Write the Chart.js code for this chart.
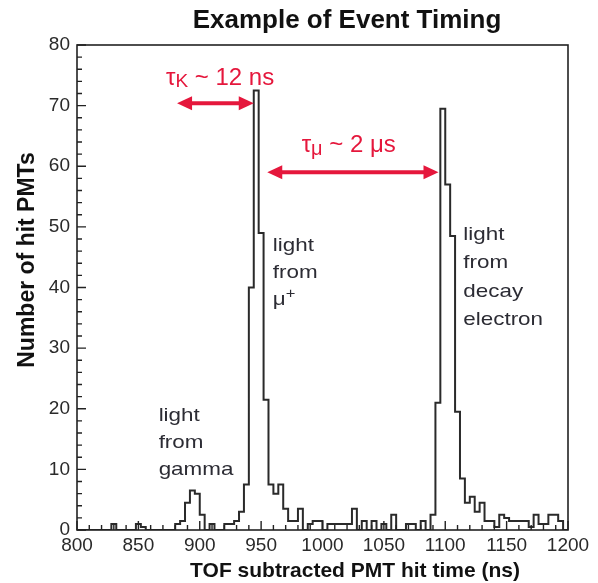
<!DOCTYPE html>
<html>
<head>
<meta charset="utf-8">
<script src="https://cdn.jsdelivr.net/npm/chart.js@4.4.1/dist/chart.umd.min.js"></script>
<style>
  html, body { margin: 0; padding: 0; background: #fff; }
</style>
</head>
<body>
<canvas id="timing" width="598" height="583"></canvas>
<script>
// PMT hit-time histogram, 4 ns bins from 800 to 1200 ns
const binEdges = [
  800, 804, 808, 812, 816, 820, 824, 828, 832, 836,
  840, 844, 848, 852, 856, 860, 864, 868, 872, 876,
  880, 884, 888, 892, 896, 900, 904, 908, 912, 916,
  920, 924, 928, 932, 936, 940, 944, 948, 952, 956,
  960, 964, 968, 972, 976, 980, 984, 988, 992, 996,
  1000, 1004, 1008, 1012, 1016, 1020, 1024, 1028, 1032, 1036,
  1040, 1044, 1048, 1052, 1056, 1060, 1064, 1068, 1072, 1076,
  1080, 1084, 1088, 1092, 1096, 1100, 1104, 1108, 1112, 1116,
  1120, 1124, 1128, 1132, 1136, 1140, 1144, 1148, 1152, 1156,
  1160, 1164, 1168, 1172, 1176, 1180, 1184, 1188, 1192, 1196,
  1200,
];

const hitCounts = [
  0, 0, 0, 0, 0, 0, 0, 1, 0, 0,
  0, 0, 1, 0.5, 0, 0, 0, 0, 0, 0,
  1, 1.5, 4.5, 6.5, 6, 2.5, 0, 1, 0, 0,
  1, 1, 1.5, 3, 7.5, 40, 72.5, 49, 21.5, 7.5,
  6, 7.5, 3.5, 1.5, 1.5, 3.5, 0, 1, 1.5, 1.5,
  0, 1, 1, 1, 1, 1, 3.5, 0, 1.5, 0,
  1.5, 0, 1, 0, 2.5, 0, 0, 1, 1, 0,
  1.5, 0, 2.5, 21, 69.5, 57, 48.5, 19.5, 8.5, 4.5,
  5.5, 3, 4.5, 1.5, 1.5, 0.5, 2.5, 2, 1.5, 1.5,
  1.5, 1.5, 0.5, 2.5, 1, 1, 2.5, 2.5, 1.5, 0,
];

const xTicks = [800, 850, 900, 950, 1000, 1050, 1100, 1150, 1200];
const yTicks = [0, 10, 20, 30, 40, 50, 60, 70, 80];

// double arrows (ns span, height in hit PMTs)
const lifetimeArrows = [
  { from: 881.5, to: 944, at: 70.4 },
  { from: 955, to: 1094.5, at: 59 },
];

const RED = "#e5173c";
const INK = "#2c2c34";
const FONT = '"Liberation Sans", Arial, sans-serif';

// step outline: each bin contributes its left and right corner
const outline = [];
hitCounts.forEach((v, i) => {
  outline.push({ x: binEdges[i], y: v });
  outline.push({ x: binEdges[i + 1], y: v });
});

function drawRun(ctx, parts, px, py, color, stretch = 1, align = "left") {
  ctx.save();
  ctx.fillStyle = color;
  ctx.textBaseline = "alphabetic";
  ctx.textAlign = "left";
  let total = 0;
  parts.forEach((p) => {
    ctx.font = `${p.weight || "normal"} ${p.size}px ${FONT}`;
    total += ctx.measureText(p.text).width;
  });
  ctx.translate(px, py);
  ctx.scale(stretch, 1);
  let cx = align === "center" ? -total / 2 : 0;
  parts.forEach((p) => {
    ctx.font = `${p.weight || "normal"} ${p.size}px ${FONT}`;
    ctx.fillText(p.text, cx, p.dy || 0);
    cx += ctx.measureText(p.text).width;
  });
  ctx.restore();
}

function arrowHead(ctx, tipX, y, dir) {
  ctx.beginPath();
  ctx.moveTo(tipX, y);
  ctx.lineTo(tipX - dir * 15, y - 7);
  ctx.lineTo(tipX - dir * 15, y + 7);
  ctx.closePath();
  ctx.fill();
}

// boxed frame with inward ticks
const frame = {
  id: "frame",
  afterDatasetsDraw(chart) {
    const { ctx, chartArea: a, scales } = chart;
    const sx = scales.x, sy = scales.y;
    ctx.save();
    ctx.strokeStyle = "#222";
    ctx.lineWidth = 1.6;
    ctx.strokeRect(a.left, a.top, a.right - a.left, a.bottom - a.top);
    ctx.lineWidth = 1.4;
    ctx.beginPath();
    for (let v = 0; v <= 80; v += 2) {
      const py = sy.getPixelForValue(v);
      const len = v % 10 === 0 ? 9 : 5;
      ctx.moveTo(a.left, py);
      ctx.lineTo(a.left + len, py);
    }
    for (let v = 800; v <= 1200; v += 10) {
      const px = sx.getPixelForValue(v);
      const len = v % 50 === 0 ? 9 : 5;
      ctx.moveTo(px, a.bottom);
      ctx.lineTo(px, a.bottom - len);
    }
    ctx.stroke();
    ctx.restore();
  },
};

const notes = {
  id: "notes",
  afterDraw(chart) {
    const { ctx, scales } = chart;
    const sx = scales.x, sy = scales.y;

    // titles
    drawRun(ctx, [{ text: "Example of Event Timing", size: 26, weight: "bold" }], 347, 28, "#111", 1, "center");
    drawRun(ctx, [{ text: "TOF subtracted PMT hit time (ns)", size: 21, weight: "bold" }], 355, 577, "#111", 1, "center");
    ctx.save();
    ctx.translate(34, 260);
    ctx.rotate(-Math.PI / 2);
    drawRun(ctx, [{ text: "Number of hit PMTs", size: 23, weight: "bold" }], 0, 0, "#111", 1, "center");
    ctx.restore();

    // lifetime arrows
    ctx.save();
    ctx.strokeStyle = RED;
    ctx.fillStyle = RED;
    ctx.lineWidth = 4;
    lifetimeArrows.forEach((ar) => {
      const x0 = sx.getPixelForValue(ar.from);
      const x1 = sx.getPixelForValue(ar.to);
      const y = sy.getPixelForValue(ar.at);
      ctx.beginPath();
      ctx.moveTo(x0 + 10, y);
      ctx.lineTo(x1 - 10, y);
      ctx.stroke();
      arrowHead(ctx, x0, y, -1);
      arrowHead(ctx, x1, y, 1);
    });
    ctx.restore();

    drawRun(ctx, [
      { text: "\u03c4", size: 24 },
      { text: "K", size: 19, dy: 2 },
      { text: " ~ 12 ns", size: 24 },
    ], sx.getPixelForValue(872.5), sy.getPixelForValue(73.4), RED);
    drawRun(ctx, [
      { text: "\u03c4", size: 24 },
      { text: "\u03bc", size: 20, dy: 3 },
      { text: " ~ 2 \u03bcs", size: 24 },
    ], sx.getPixelForValue(983), sy.getPixelForValue(62.4), RED);

    // peak labels
    const lead = 27;
    const gx = sx.getPixelForValue(866.5), gy = 421;
    ["light", "from", "gamma"].forEach((t, i) =>
      drawRun(ctx, [{ text: t, size: 19 }], gx, gy + i * lead, INK, 1.18));

    const mx = sx.getPixelForValue(959.5), my = 251;
    drawRun(ctx, [{ text: "light", size: 19 }], mx, my, INK, 1.18);
    drawRun(ctx, [{ text: "from", size: 19 }], mx, my + lead, INK, 1.18);
    drawRun(ctx, [{ text: "\u03bc", size: 19 }, { text: "+", size: 14, dy: -7 }], mx, my + 2 * lead, INK, 1.18);

    const ex = sx.getPixelForValue(1114.7), ey = 240;
    ["light", "from", "decay", "electron"].forEach((t, i) =>
      drawRun(ctx, [{ text: t, size: 19 }], ex, ey + i * 28.3, INK, 1.18));
  },
};

new Chart(document.getElementById("timing"), {
  type: "line",
  data: {
    datasets: [{
      data: outline,
      borderColor: "#2a2a2a",
      borderWidth: 2,
      pointRadius: 0,
      fill: false,
      tension: 0,
    }],
  },
  options: {
    responsive: false,
    devicePixelRatio: 1,
    animation: false,
    layout: { padding: { top: 45, right: 30, left: 0, bottom: 0 } },
    plugins: { legend: { display: false }, tooltip: { enabled: false }, title: { display: false } },
    scales: {
      x: {
        type: "linear",
        min: xTicks[0],
        max: xTicks[xTicks.length - 1],
        afterBuildTicks: (s) => { s.ticks = xTicks.map((v) => ({ value: v })); },
        afterFit: (s) => { s.height = 53; },
        ticks: {
          color: "#2a2a2a", font: { family: FONT, size: 19 }, padding: 4,
          maxRotation: 0, autoSkip: false, callback: (v) => String(v),
        },
        grid: { display: false, drawTicks: false },
        border: { display: false },
      },
      y: {
        type: "linear",
        min: yTicks[0],
        max: yTicks[yTicks.length - 1],
        afterBuildTicks: (s) => { s.ticks = yTicks.map((v) => ({ value: v })); },
        afterFit: (s) => { s.width = 77; },
        ticks: { color: "#2a2a2a", font: { family: FONT, size: 19 }, padding: 7, callback: (v) => String(v) },
        grid: { display: false, drawTicks: false },
        border: { display: false },
      },
    },
  },
  plugins: [frame, notes],
});
</script>
</body>
</html>
